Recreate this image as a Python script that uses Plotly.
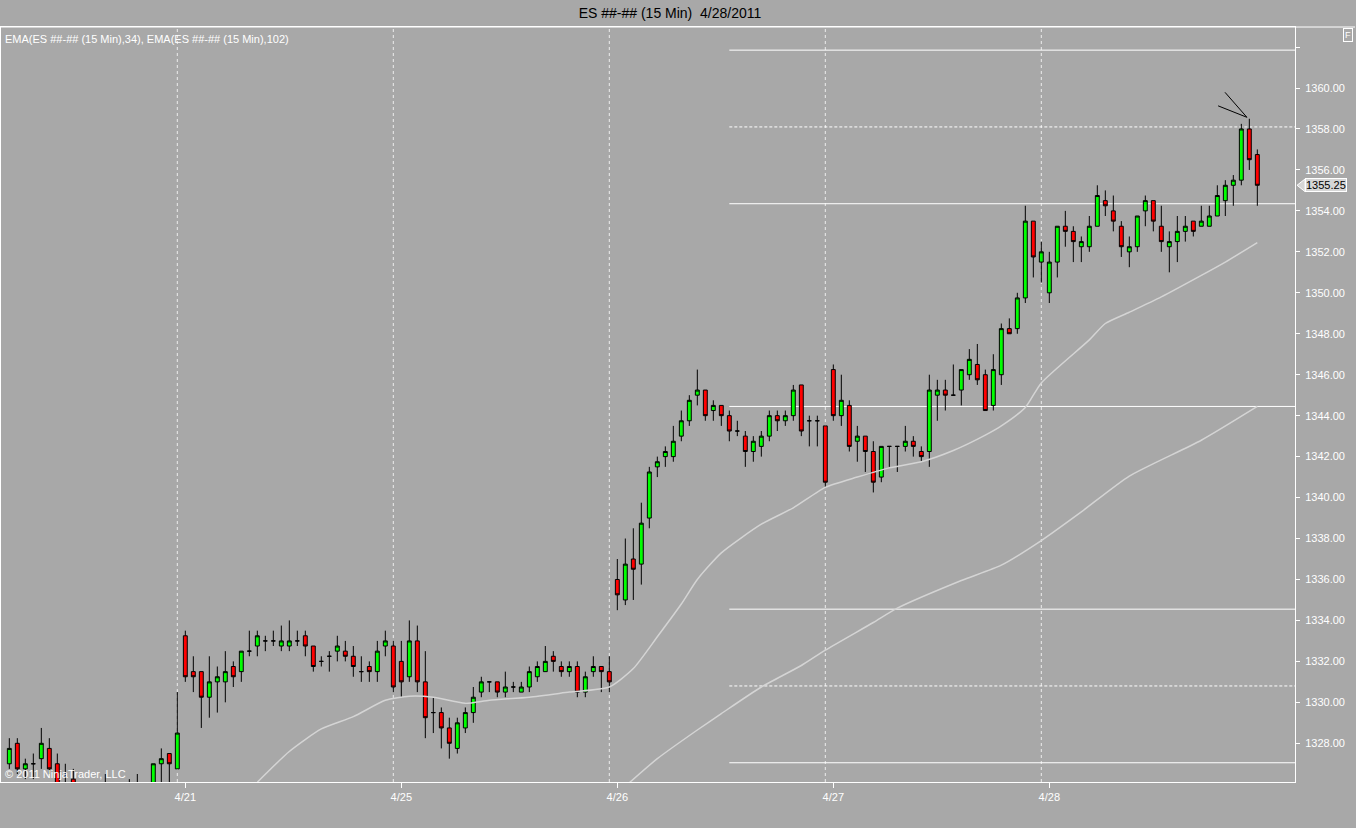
import plotly.graph_objects as go

# ES 15 min bars, RTH sessions 4/20 (partial) .. 4/28
opens = [
    # 4/20
    1327.0, 1328.0, 1326.75, 1327.0, 1327.25, 1327.75, 1327.0, 1325.75, 1326.25, 1325.75, 1325.5,
    1325.25, 1325.5, 1325.75, 1325.25, 1325.5, 1325.75, 1325.5, 1325.5, 1327.0, 1327.5, 1326.75,
    # 4/21
    1333.25, 1331.5, 1331.5, 1330.25, 1331.0, 1331.0, 1331.75, 1331.5, 1332.5, 1332.75, 1333.0,
    1333.0, 1332.75, 1332.75, 1333.0, 1333.25, 1332.75, 1332.0, 1332.25, 1332.5, 1332.5, 1332.25,
    1331.5, 1331.75, 1331.5, 1332.75, 1332.75,
    # 4/25
    1332.0, 1331.25, 1333.0, 1331.0, 1329.5, 1329.5, 1328.75, 1327.75, 1328.75, 1329.5, 1330.5,
    1331.0, 1331.0, 1330.5, 1330.75, 1330.5, 1330.75, 1331.25, 1331.5, 1332.25, 1331.75, 1331.5,
    1331.75, 1330.5, 1331.5, 1331.75, 1331.5,
    # 4/26
    1336.0, 1335.0, 1337.0, 1336.75, 1339.0, 1341.5, 1342.0, 1342.0, 1343.0, 1343.75, 1345.0,
    1345.25, 1344.25, 1344.5, 1344.0, 1343.25, 1343.0, 1342.25, 1342.5, 1343.0, 1344.0, 1343.75,
    1344.0, 1345.5, 1343.75, 1343.75, 1343.5,
    # 4/27
    1346.25, 1344.0, 1344.5, 1342.75, 1343.0, 1342.25, 1341.0, 1342.5, 1342.5, 1342.5, 1342.75,
    1342.25, 1342.25, 1345.0, 1345.25, 1345.0, 1345.25, 1346.0, 1346.5, 1346.0, 1344.5, 1346.0,
    1348.25, 1348.25, 1349.75, 1353.5, 1351.5,
    # 4/28
    1350.0, 1351.5, 1353.25, 1353.0, 1352.25, 1352.25, 1353.25, 1354.5, 1354.0, 1353.25, 1352.0,
    1352.25, 1354.0, 1354.5, 1353.25, 1352.25, 1352.5, 1353.0, 1353.5, 1353.25, 1353.25, 1353.75,
    1354.5, 1355.25, 1355.5, 1358.0, 1356.75,
]
highs = [
    1328.25, 1328.25, 1327.25, 1327.5, 1328.75, 1328.25, 1327.5, 1327.0, 1326.75, 1325.75, 1325.75,
    1325.75, 1326.5, 1325.75, 1325.75, 1326.25, 1326.5, 1325.75, 1327.0, 1327.75, 1327.5, 1330.5,
    1333.5, 1332.25, 1331.5, 1332.25, 1331.75, 1332.5, 1332.0, 1332.5, 1333.5, 1333.5, 1333.25,
    1333.5, 1333.75, 1334.0, 1333.5, 1333.5, 1332.75, 1332.25, 1332.5, 1333.25, 1333.0, 1332.75,
    1332.25, 1332.0, 1333.0, 1333.5, 1333.0,
    1333.0, 1334.0, 1333.75, 1332.5, 1330.25, 1329.75, 1329.25, 1329.25, 1329.75, 1330.75, 1331.25,
    1331.0, 1331.0, 1331.5, 1331.0, 1331.0, 1331.75, 1332.0, 1332.75, 1332.5, 1332.0, 1332.0,
    1332.0, 1331.5, 1332.25, 1331.75, 1332.25,
    1337.0, 1338.0, 1338.5, 1339.75, 1341.5, 1342.0, 1342.5, 1343.5, 1344.25, 1345.0, 1346.25,
    1345.25, 1344.75, 1344.5, 1344.25, 1343.75, 1343.25, 1343.0, 1343.25, 1344.25, 1344.25, 1344.25,
    1345.5, 1345.5, 1344.0, 1344.0, 1343.5,
    1346.5, 1346.0, 1344.75, 1343.5, 1343.0, 1342.75, 1342.5, 1342.5, 1342.5, 1343.5, 1343.0,
    1342.5, 1346.0, 1345.75, 1345.75, 1346.5, 1346.25, 1347.25, 1347.5, 1346.25, 1347.0, 1348.5,
    1348.75, 1350.0, 1354.25, 1353.5, 1352.5,
    1352.0, 1353.25, 1354.0, 1353.25, 1352.75, 1353.75, 1355.25, 1355.0, 1354.75, 1353.5, 1352.75,
    1353.75, 1354.75, 1354.5, 1354.25, 1353.0, 1353.75, 1353.75, 1353.5, 1354.25, 1354.25, 1355.25,
    1355.5, 1355.75, 1358.25, 1358.5, 1357.0,
]
lows = [
    1326.75, 1326.5, 1326.25, 1326.25, 1326.75, 1326.5, 1325.5, 1325.25, 1325.5, 1325.0, 1324.75,
    1325.0, 1325.25, 1325.0, 1325.0, 1325.25, 1325.25, 1325.0, 1325.25, 1325.75, 1325.75, 1326.75,
    1331.0, 1330.5, 1328.75, 1329.25, 1329.5, 1330.0, 1330.75, 1331.0, 1332.25, 1332.25, 1332.5,
    1332.75, 1332.5, 1332.5, 1332.75, 1332.25, 1331.5, 1331.75, 1331.5, 1332.0, 1332.0, 1331.25,
    1331.0, 1331.0, 1331.0, 1332.25, 1330.5,
    1330.25, 1331.0, 1330.5, 1328.25, 1328.5, 1327.75, 1327.25, 1327.5, 1328.5, 1329.0, 1330.25,
    1330.5, 1330.25, 1330.25, 1330.5, 1330.5, 1330.5, 1331.0, 1331.5, 1331.5, 1331.25, 1331.25,
    1330.25, 1330.25, 1331.25, 1330.5, 1330.5,
    1334.5, 1334.75, 1335.0, 1335.75, 1338.5, 1341.0, 1341.5, 1341.75, 1342.75, 1343.5, 1344.5,
    1343.75, 1343.75, 1343.5, 1342.75, 1343.0, 1341.5, 1341.75, 1342.0, 1342.75, 1343.25, 1343.5,
    1343.75, 1343.0, 1342.5, 1342.5, 1340.5,
    1343.75, 1343.5, 1342.25, 1341.75, 1341.25, 1340.25, 1340.75, 1341.5, 1341.25, 1342.25, 1342.0,
    1341.75, 1341.5, 1343.75, 1344.25, 1345.0, 1344.5, 1345.75, 1345.5, 1344.25, 1344.25, 1345.5,
    1348.0, 1348.0, 1349.5, 1350.75, 1350.5,
    1349.5, 1350.75, 1352.25, 1351.5, 1351.5, 1352.0, 1353.25, 1353.75, 1353.0, 1351.75, 1351.25,
    1352.0, 1353.25, 1353.0, 1352.0, 1351.0, 1351.5, 1352.5, 1352.75, 1353.25, 1353.25, 1353.75,
    1353.75, 1354.25, 1355.25, 1356.0, 1354.25,
]
closes = [
    1327.75, 1326.75, 1327.0, 1327.0, 1328.0, 1326.75, 1325.75, 1325.5, 1325.75, 1325.5, 1325.25,
    1325.5, 1325.75, 1325.25, 1325.5, 1325.75, 1325.5, 1325.5, 1327.0, 1327.25, 1327.0, 1328.5,
    1331.25, 1331.25, 1330.25, 1331.0, 1331.25, 1331.5, 1331.25, 1332.5, 1332.5, 1333.25, 1333.0,
    1333.0, 1333.0, 1333.0, 1333.0, 1332.75, 1331.75, 1332.0, 1332.25, 1332.75, 1332.25, 1331.75,
    1331.5, 1331.5, 1332.5, 1333.0, 1330.75,
    1331.0, 1333.0, 1331.0, 1329.25, 1329.5, 1328.75, 1328.0, 1329.0, 1329.5, 1330.25, 1331.0,
    1331.0, 1330.5, 1330.75, 1330.75, 1330.75, 1331.5, 1331.75, 1332.0, 1332.0, 1331.5, 1331.75,
    1330.5, 1331.25, 1331.75, 1331.5, 1331.0,
    1335.25, 1336.75, 1336.5, 1338.75, 1341.25, 1341.75, 1342.25, 1342.75, 1343.75, 1344.75, 1345.25,
    1344.0, 1344.5, 1344.0, 1343.25, 1343.25, 1342.25, 1342.75, 1343.0, 1344.0, 1343.75, 1344.0,
    1345.25, 1343.25, 1343.75, 1343.75, 1340.75,
    1344.0, 1344.75, 1342.5, 1343.0, 1342.25, 1340.75, 1342.5, 1342.5, 1342.5, 1342.75, 1342.5,
    1342.0, 1345.25, 1345.25, 1345.0, 1345.0, 1346.25, 1346.75, 1345.75, 1344.25, 1346.25, 1348.25,
    1348.0, 1349.75, 1353.5, 1351.75, 1352.0,
    1351.5, 1353.25, 1353.0, 1352.5, 1352.5, 1353.25, 1354.75, 1354.25, 1353.5, 1352.25, 1352.25,
    1353.75, 1354.5, 1353.5, 1352.5, 1352.5, 1353.0, 1353.25, 1353.0, 1353.5, 1353.75, 1354.75,
    1355.25, 1355.5, 1358.0, 1356.5, 1355.25,
]
bars = list(range(len(closes)))

# EMA lines, read at sample bars
ema34_bars = [31, 35, 39, 43, 47, 50, 53, 57, 60, 65, 70, 75, 78, 81, 84, 86, 89, 94, 98,
              102, 106, 110, 114, 118, 122, 124, 127, 129, 135, 137, 140, 144, 149, 152, 156]
ema34_vals = [1326.1, 1327.6, 1328.7, 1329.3, 1330.1, 1330.3, 1330.25, 1329.95, 1330.1, 1330.25,
              1330.5, 1330.75, 1331.65, 1333.2, 1334.8, 1336.0, 1337.3, 1338.7, 1339.5,
              1340.5, 1341.0, 1341.45, 1341.75, 1342.3, 1343.05, 1343.5, 1344.4, 1345.6,
              1347.7, 1348.5, 1349.05, 1349.8, 1350.85, 1351.5, 1352.45]
ema102_bars = [77, 81, 86, 89, 94, 99, 102, 108, 111, 119, 124, 129, 134, 140, 149, 156]
ema102_vals = [1325.9, 1327.25, 1328.65, 1329.45, 1330.75, 1331.8, 1332.55, 1333.9, 1334.6,
               1335.95, 1336.7, 1337.9, 1339.3, 1341.05, 1342.8, 1344.45]

day_labels = ["4/21", "4/25", "4/26", "4/27", "4/28"]
day_first_bar = [22, 49, 76, 103, 130]
day_break_bar = [21, 48, 75, 102, 129]

# drawn horizontal levels
level_start_bar = 90
level_values = [1361.85, 1358.1, 1354.35, 1344.45, 1334.55, 1330.8, 1327.05]
level_dotted = [False, True, False, False, False, True, False]

# hand drawn marks above the high
sketch_lines = [((151.96, 1359.79), (154.7, 1358.57)), ((151.1, 1359.13), (154.7, 1358.57))]

y_ticks = [1328 + 2 * k for k in range(18)]
last_price = closes[-1]

BG = "#a8a8a8"
FONT = "Liberation Sans, Arial, sans-serif"
X_RANGE = [-1.04, 160.71]
Y_RANGE = [1326.11, 1362.98]

fig = go.Figure()
fig.add_trace(go.Scatter(x=ema34_bars, y=ema34_vals, mode="lines", line=dict(color="#d4d4d4", width=1.5, shape="spline", smoothing=0.6),
                         hoverinfo="skip", showlegend=False))
fig.add_trace(go.Scatter(x=ema102_bars, y=ema102_vals, mode="lines", line=dict(color="#d4d4d4", width=1.5, shape="spline", smoothing=0.6),
                         hoverinfo="skip", showlegend=False))
fig.add_trace(go.Candlestick(
    x=bars, open=opens, high=highs, low=lows, close=closes,
    increasing=dict(fillcolor="#00ff00", line=dict(color="black", width=1)),
    decreasing=dict(fillcolor="#ff0000", line=dict(color="black", width=1)),
    whiskerwidth=0, showlegend=False,
))

for b in day_break_bar:
    fig.add_shape(type="line", xref="x", yref="paper", x0=b, x1=b, y0=0, y1=1,
                  line=dict(color="#ececec", width=1, dash="3px,3px"), layer="below")
for v, dotted in zip(level_values, level_dotted):
    fig.add_shape(type="line", xref="x", yref="y", x0=level_start_bar, x1=X_RANGE[1], y0=v, y1=v,
                  line=dict(color="white", width=1, dash="3px,2px" if dotted else "solid"), layer="below")
for (x0, y0), (x1, y1) in sketch_lines:
    fig.add_shape(type="line", xref="x", yref="y", x0=x0, y0=y0, x1=x1, y1=y1, line=dict(color="black", width=1))

# top border running over the price axis
fig.add_shape(type="line", xref="paper", yref="paper", x0=0, x1=1.0464, y0=1, y1=1, line=dict(color="white", width=1))
# last price marker arrow
fig.add_shape(type="path", xref="paper", yref="y",
              path=f"M 1.0016,{last_price} L 1.0078,{last_price + 0.31} L 1.0078,{last_price - 0.31} Z",
              fillcolor="#d6d6d6", line=dict(color="white", width=1))
fig.add_annotation(xref="paper", yref="y", x=1.0078, y=last_price, xanchor="left", yanchor="middle",
                   text=f"{last_price:.2f}", showarrow=False, font=dict(family=FONT, size=11, color="black"),
                   bgcolor="#d6d6d6", bordercolor="white", borderwidth=1, borderpad=0)

fig.add_annotation(xref="paper", yref="paper", x=0, y=1, xanchor="left", yanchor="top", xshift=2, yshift=-4,
                   text="EMA(ES ##-## (15 Min),34), EMA(ES ##-## (15 Min),102)", showarrow=False,
                   font=dict(family=FONT, size=11, color="white"))
fig.add_annotation(xref="paper", yref="paper", x=0, y=0, xanchor="left", yanchor="bottom", xshift=2, yshift=0,
                   text="© 2011 NinjaTrader, LLC", showarrow=False, font=dict(family=FONT, size=11, color="white"))
fig.add_annotation(xref="paper", yref="paper", x=1.0406, y=0.990, xanchor="center", yanchor="middle",
                   text="F", showarrow=False, font=dict(family=FONT, size=9, color="white"),
                   bordercolor="white", borderwidth=1, borderpad=1)

fig.update_layout(
    width=1356,
    height=828,
    margin=dict(l=1, r=61, t=27, b=46, pad=0),
    paper_bgcolor=BG,
    plot_bgcolor=BG,
    font=dict(family=FONT, size=11, color="white"),
    title=dict(text="ES ##-## (15 Min)\u00a0 4/28/2011", x=670 / 1356, xref="container", xanchor="center",
               y=1 - 13 / 828, yref="container", yanchor="middle", font=dict(family=FONT, size=14, color="black")),
    showlegend=False,
    hovermode=False,
    xaxis=dict(
        range=X_RANGE, tickmode="array", tickvals=day_first_bar, ticktext=day_labels,
        ticks="outside", ticklen=5, tickcolor="white", tickfont=dict(color="white", size=11),
        showgrid=False, zeroline=False, showline=True, linecolor="white", linewidth=1, mirror=True,
        rangeslider=dict(visible=False), fixedrange=True,
    ),
    yaxis=dict(
        side="right", range=Y_RANGE, tickmode="array", tickvals=y_ticks,
        ticktext=[f"{v:.2f}" if v < 1362 else "" for v in y_ticks],
        ticks="outside", ticklen=4, tickcolor="white", tickfont=dict(color="white", size=11),
        ticklabelstandoff=3, showgrid=False, zeroline=False, showline=True, linecolor="white",
        linewidth=1, mirror=True, fixedrange=True,
    ),
)

# the page body has a default 8px margin; drop it so the chart fills the window
fig.write_html("out.html", config={"displayModeBar": False},
               post_script="document.body.style.margin='0';document.body.style.background='#a8a8a8';")
